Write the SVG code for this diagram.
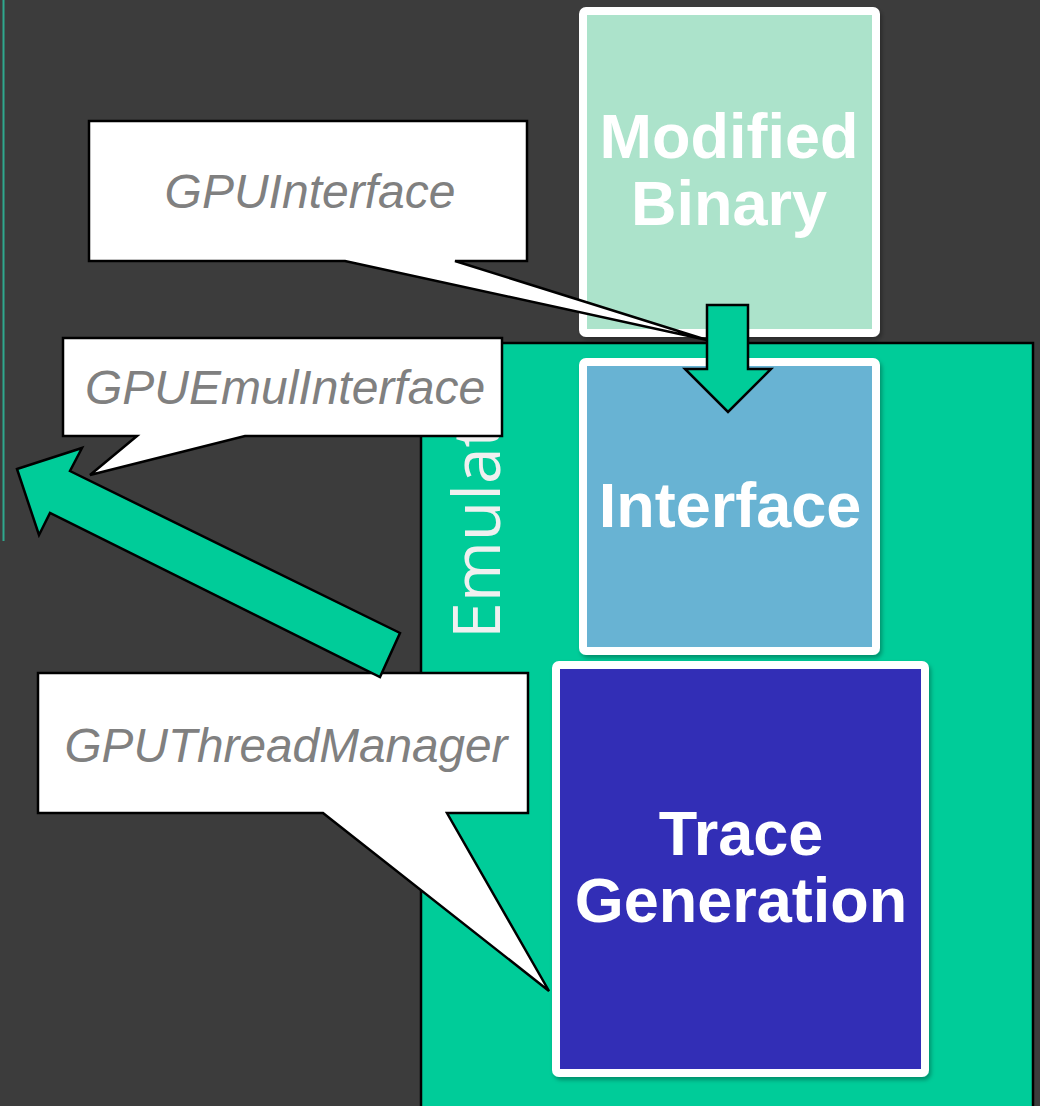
<svg xmlns="http://www.w3.org/2000/svg" width="1040" height="1106" viewBox="0 0 1040 1106">
  <style>
    .box { stroke: #ffffff; stroke-width: 8; filter: url(#shadow); }
    .boxlabel { font-family: "Liberation Sans", Arial, sans-serif; font-weight: bold; font-size: 63px; fill: #ffffff; text-anchor: middle; }
    .callout { fill: #ffffff; stroke: #000000; stroke-width: 2.5; stroke-linejoin: miter; }
    .calltext { font-family: "Liberation Sans", Arial, sans-serif; font-style: italic; font-size: 48px; fill: #808080; text-anchor: middle; }
    .flow { fill: #00cc99; stroke: #000000; stroke-width: 2.5; stroke-linejoin: miter; }
  </style>
  <defs>
    <filter id="shadow" x="-10%" y="-10%" width="125%" height="125%">
      <feDropShadow dx="2" dy="3" stdDeviation="2" flood-color="#000000" flood-opacity="0.3"/>
    </filter>
  </defs>

  <!-- backdrop -->
  <rect x="0" y="0" width="1040" height="1106" fill="#3c3c3c"/>
  <line x1="3.5" y1="0" x2="3.5" y2="541" stroke="#2fa88d" stroke-width="2"/>

  <!-- emulator container -->
  <g id="emulator">
    <rect x="421" y="343" width="612" height="780" fill="#00cc99" stroke="#000000" stroke-width="2.5"/>
    <text transform="translate(500,639) rotate(-90)" font-family="'Open Sans', 'DejaVu Sans', sans-serif" font-size="66" fill="#f0f0f0">Emulat</text>
  </g>

  <!-- stage boxes -->
  <g id="modified-binary">
    <rect class="box" x="583" y="11" width="293" height="322" rx="3" fill="#ace3cb"/>
    <text class="boxlabel" x="729" y="158">Modified</text>
    <text class="boxlabel" x="729" y="225">Binary</text>
  </g>
  <g id="interface">
    <rect class="box" x="583" y="362" width="293" height="289" rx="3" fill="#67b3d3"/>
    <text class="boxlabel" x="730" y="527">Interface</text>
  </g>
  <g id="trace-generation">
    <rect class="box" x="556" y="665" width="369" height="408" rx="3" fill="#302db6"/>
    <text class="boxlabel" x="741" y="855">Trace</text>
    <text class="boxlabel" x="741" y="922">Generation</text>
  </g>

  <!-- callouts -->
  <g id="gpu-interface">
    <path class="callout" d="M89,121 H527 V261 H455 L707,340 L345,261 H89 Z"/>
    <text class="calltext" x="310" y="208">GPUInterface</text>
  </g>
  <g id="gpu-thread-manager">
    <path class="callout" d="M38,673 H528 V813 H447 L549,991 L323,813 H38 Z"/>
    <text class="calltext" x="286" y="762" font-size="47" textLength="443" lengthAdjust="spacingAndGlyphs">GPUThreadManager</text>
  </g>

  <!-- connectors -->
  <g id="connectors">
    <polygon class="flow" points="707,305 748,305 748,369 771,369 728,412 685,369 707,369"/>
    <polygon class="flow" points="17,469 82,448 70,471 400,633 380,677 50,513 39,535"/>
  </g>

  <g id="gpu-emul-interface">
    <path class="callout" d="M63,338 H502 V436 H245 L90,475 L137,436 H63 Z"/>
    <text class="calltext" x="285" y="404">GPUEmulInterface</text>
  </g>
</svg>
